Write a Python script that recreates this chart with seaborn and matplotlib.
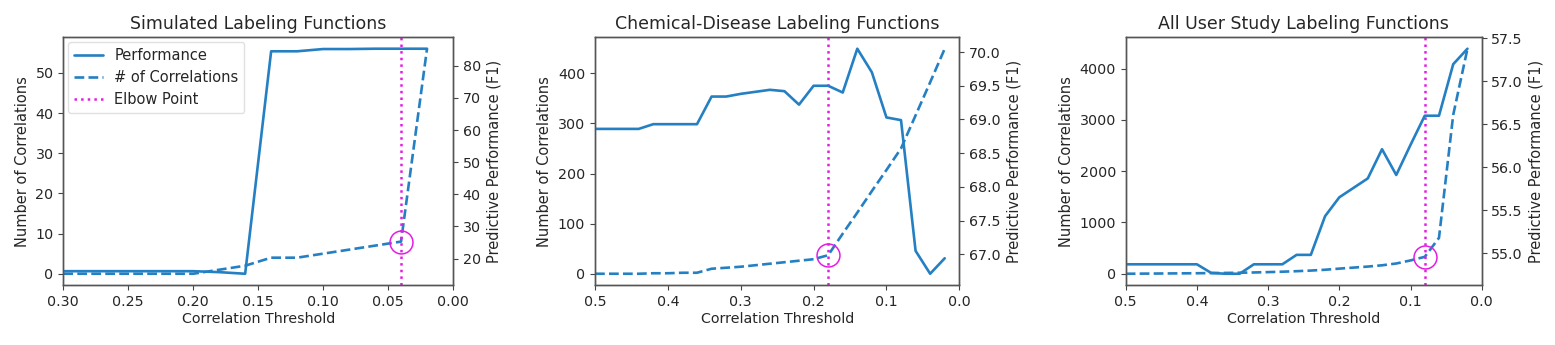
import numpy as np
import pandas as pd
import matplotlib
matplotlib.use("Agg")
import matplotlib.pyplot as plt
import seaborn as sns
from matplotlib.lines import Line2D

# ---------------- data ----------------
titles = ["Simulated Labeling Functions",
          "Chemical-Disease Labeling Functions",
          "All User Study Labeling Functions"]

# Panel 1: simulated
sim_thresh = [0.30, 0.28, 0.26, 0.24, 0.22, 0.20, 0.18, 0.16, 0.14, 0.12, 0.10, 0.08, 0.06, 0.04, 0.02]
sim_perf = [16.1, 16.1, 16.1, 16.1, 16.1, 16.1, 15.8, 15.3, 84.5, 84.5, 85.2, 85.2, 85.3, 85.3, 85.3]
sim_corr = [0, 0, 0, 0, 0, 0, 1, 2, 4, 4, 5, 6, 7, 8, 56]
sim_elbow = 0.04

# Panel 2: chemical-disease
cdr_thresh = [0.50, 0.48, 0.46, 0.44, 0.42, 0.40, 0.38, 0.36, 0.34, 0.32, 0.30, 0.28, 0.26,
              0.24, 0.22, 0.20, 0.18, 0.16, 0.14, 0.12, 0.10, 0.08, 0.06, 0.04, 0.02]
cdr_perf = [68.86, 68.86, 68.86, 68.86, 68.93, 68.93, 68.93, 68.93, 69.34, 69.34, 69.38, 69.41, 69.44,
            69.42, 69.22, 69.50, 69.50, 69.40, 70.05, 69.70, 69.03, 68.99, 67.05, 66.71, 66.94]
cdr_corr = [0, 0, 0, 0, 1, 1, 2, 2, 10, 12, 14, 17, 20,
            23, 26, 29, 37, 80, 122, 165, 207, 250, 316, 382, 449]
cdr_elbow = 0.18

# Panel 3: user study
usr_thresh = [0.50, 0.48, 0.46, 0.44, 0.42, 0.40, 0.38, 0.36, 0.34, 0.32, 0.30, 0.28, 0.26,
              0.24, 0.22, 0.20, 0.18, 0.16, 0.14, 0.12, 0.10, 0.08, 0.06, 0.04, 0.02]
usr_perf = [54.87, 54.87, 54.87, 54.87, 54.87, 54.87, 54.77, 54.76, 54.76, 54.87, 54.87, 54.87, 54.98,
            54.98, 55.43, 55.65, 55.76, 55.87, 56.21, 55.91, 56.26, 56.60, 56.60, 57.20, 57.38]
usr_corr = [0, 2, 4, 6, 8, 10, 13, 16, 20, 25, 32, 40, 50,
            62, 78, 100, 120, 140, 165, 200, 260, 330, 700, 3100, 4390]
usr_elbow = 0.08

xlims = [(0.30, 0.00), (0.5, 0.0), (0.5, 0.0)]
xticks = [[0.30, 0.25, 0.20, 0.15, 0.10, 0.05, 0.00],
          [0.5, 0.4, 0.3, 0.2, 0.1, 0.0],
          [0.5, 0.4, 0.3, 0.2, 0.1, 0.0]]
xtick_fmt = ["{:.2f}", "{:.1f}", "{:.1f}"]
left_ticks = [[0, 10, 20, 30, 40, 50],
              [0, 100, 200, 300, 400],
              [0, 1000, 2000, 3000, 4000]]
right_ticks = [[20, 30, 40, 50, 60, 70, 80],
               [67.0, 67.5, 68.0, 68.5, 69.0, 69.5, 70.0],
               [55.0, 55.5, 56.0, 56.5, 57.0, 57.5]]
right_fmt = ["{:.0f}", "{:.1f}", "{:.1f}"]

panels = [
    (sim_thresh, sim_perf, sim_corr, sim_elbow),
    (cdr_thresh, cdr_perf, cdr_corr, cdr_elbow),
    (usr_thresh, usr_perf, usr_corr, usr_elbow),
]

# ---------------- style ----------------
sns.set_style("ticks")
plt.rcParams["font.family"] = ["DejaVu Sans"]
plt.rcParams["font.size"] = 10
plt.rcParams["text.color"] = "#262626"
plt.rcParams["axes.labelcolor"] = "#262626"
plt.rcParams["xtick.color"] = "#444444"
plt.rcParams["ytick.color"] = "#444444"
plt.rcParams["xtick.labelcolor"] = "#262626"
plt.rcParams["ytick.labelcolor"] = "#262626"
plt.rcParams["axes.edgecolor"] = "#555555"
plt.rcParams["axes.linewidth"] = 1.0

BLUE = "#2580c3"
MAG = "#e31ee3"

fig = plt.figure(figsize=(15.55, 3.45), dpi=100)
positions = [
    [63.3 / 1555, 0.1739, 389.7 / 1555, 0.7175],
    [595.0 / 1555, 0.1739, 364.3 / 1555, 0.7175],
    [1125.7 / 1555, 0.1739, 356.0 / 1555, 0.7175],
]

for i, (thr, perf, corr, elbow) in enumerate(panels):
    ax = fig.add_axes(positions[i])
    ax2 = ax.twinx()
    df = pd.DataFrame({"thr": thr, "perf": perf, "corr": corr})

    sns.lineplot(data=df, x="thr", y="corr", ax=ax, color=BLUE, linestyle="--",
                 linewidth=1.9, sort=False)
    sns.lineplot(data=df, x="thr", y="perf", ax=ax2, color=BLUE, linestyle="-",
                 linewidth=1.9, sort=False)

    ax.axvline(elbow, color=MAG, linestyle=":", linewidth=1.8)
    elbow_val = df.loc[np.isclose(df["thr"], elbow), "corr"].iloc[0]
    ax.plot([elbow], [elbow_val], marker="o", markersize=16.5, markerfacecolor="none",
            markeredgecolor=MAG, markeredgewidth=1.1, linestyle="none")

    ax.set_xlim(*xlims[i])
    ax.set_xticks(xticks[i])
    ax.set_xticklabels([xtick_fmt[i].format(v) for v in xticks[i]])
    ax.set_yticks(left_ticks[i])
    ax2.set_yticks(right_ticks[i])
    ax2.set_yticklabels([right_fmt[i].format(v) for v in right_ticks[i]])

    ax.set_xlabel("Correlation Threshold", fontsize=10.3, labelpad=2)
    ax.set_ylabel("Number of Correlations", fontsize=10.5)
    ax2.set_ylabel("Predictive Performance (F1)", fontsize=10.5)
    ax.set_title(titles[i], fontsize=12.5, pad=6)
    ax.tick_params(labelsize=10.3)
    ax2.tick_params(labelsize=10.3)

    if i == 0:
        handles = [
            Line2D([0], [0], color=BLUE, linestyle="-", linewidth=1.9),
            Line2D([0], [0], color=BLUE, linestyle="--", linewidth=1.9),
            Line2D([0], [0], color=MAG, linestyle=":", linewidth=1.8),
        ]
        ax2.legend(handles, ["Performance", "# of Correlations", "Elbow Point"],
                   loc="upper left", fontsize=10.5, frameon=True, framealpha=0.9,
                   edgecolor="#dddddd", borderaxespad=0.3)

fig.savefig("out.png", dpi=100)
